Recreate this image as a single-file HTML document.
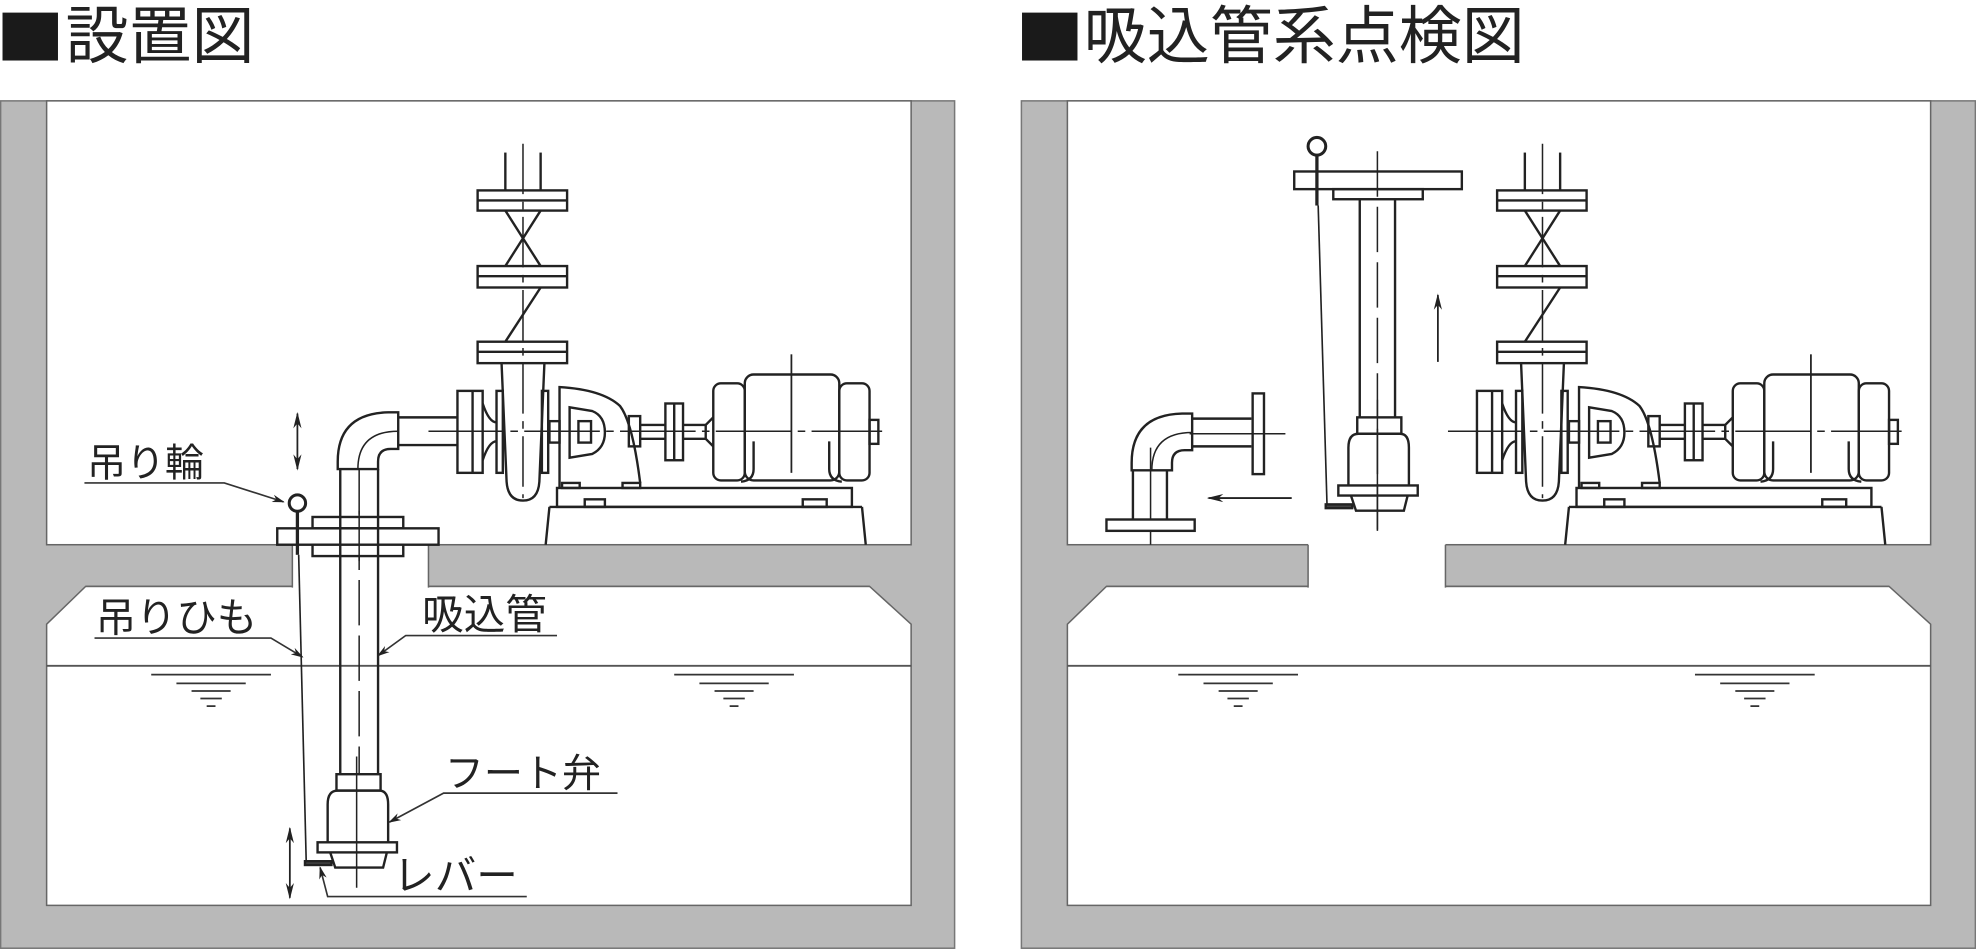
<!DOCTYPE html>
<html><head><meta charset="utf-8"><style>
html,body{margin:0;padding:0;background:#fff;}
svg{display:block;}
text{font-family:"Liberation Sans","Noto Sans CJK JP",sans-serif;fill:#222;}
</style></head><body>
<svg width="1976" height="952" viewBox="0 0 1568 755" preserveAspectRatio="none" xmlns="http://www.w3.org/2000/svg">
<defs>
<marker id="ah" viewBox="0 0 10 10" refX="9" refY="5" markerWidth="10" markerHeight="10" orient="auto-start-reverse" markerUnits="userSpaceOnUse"><path d="M0,2 L10,5 L0,8 L3,5 Z" fill="#222"/></marker>
<marker id="ah2" viewBox="0 0 10 10" refX="9" refY="5" markerWidth="13" markerHeight="13" orient="auto-start-reverse" markerUnits="userSpaceOnUse"><path d="M0,2.5 L10,5 L0,7.5 L3,5 Z" fill="#222"/></marker>

<g id="pump" fill="none" stroke="#222" stroke-width="1.9">
  <line x1="401" y1="121" x2="401" y2="151"/>
  <line x1="429" y1="121" x2="429" y2="151"/>
  <line x1="415" y1="114" x2="415" y2="395" stroke-width="1.2" stroke-dasharray="40,6,6,6"/>
  <rect x="379" y="151" width="71" height="16"/><line x1="379" y1="159" x2="450" y2="159"/>
  <rect x="379" y="211" width="71" height="17"/><line x1="379" y1="219" x2="450" y2="219"/>
  <rect x="379" y="271" width="71" height="17"/><line x1="379" y1="279" x2="450" y2="279"/>
  <line x1="401" y1="167" x2="429" y2="211"/><line x1="429" y1="167" x2="401" y2="211"/>
  <line x1="429" y1="228" x2="401" y2="271"/>
  <path d="M398,288 L402,382 Q403,397 415,397 Q427,397 428,382 L432,288"/>
  <rect x="363" y="310" width="20" height="65"/><line x1="375" y1="310" x2="375" y2="375"/>
  <path d="M383,320 Q388,335 394,335 M383,365 Q388,350 394,350"/>
  <rect x="394" y="310" width="5" height="65"/>
  <rect x="430" y="310" width="5" height="65"/>
  <path d="M444,387 L444,307 Q478,309 492,322 Q502,335 508,383"/>
  <path d="M452,323 L452,363 L470,360 Q480,355 480,343 Q480,330 470,326 Z"/>
  <rect x="459" y="334" width="10" height="17"/>
  <rect x="436" y="334" width="8" height="17"/>
  <rect x="446" y="383" width="14" height="4"/><rect x="494" y="383" width="14" height="4"/>
  <rect x="499" y="330" width="9" height="24"/>
  <line x1="508" y1="337" x2="528" y2="337"/><line x1="508" y1="348" x2="528" y2="348"/>
  <rect x="528" y="320" width="14" height="45"/><line x1="535" y1="320" x2="535" y2="365"/>
  <line x1="542" y1="337" x2="560" y2="337"/><line x1="542" y1="348" x2="560" y2="348"/>
  <path d="M560,337 L566,331 M560,348 L566,354 M560,337 L560,348"/>
  <rect x="566" y="304" width="25" height="77" rx="6"/>
  <rect x="591" y="297" width="75" height="84" rx="7"/>
  <rect x="666" y="304" width="24" height="77" rx="6"/>
  <rect x="690" y="333" width="7" height="19"/>
  <path d="M598,350 L598,372 Q598,381 588,382 M658,350 L658,372 Q658,381 668,382"/>
  <line x1="628" y1="281" x2="628" y2="375" stroke-width="1.4"/>
  <line x1="340" y1="342" x2="700" y2="342" stroke-width="1.2" stroke-dasharray="60,5,6,5"/>
  <rect x="442" y="387" width="234" height="15"/>
  <rect x="464" y="396" width="16" height="6"/><rect x="637" y="396" width="19" height="6"/>
  <path d="M436,402 L433,432 M684,402 L687,432 M436,402 L684,402"/>
</g>

<g id="fv" fill="none" stroke="#222" stroke-width="1.9">
  <rect x="267" y="614" width="35" height="13"/>
  <path d="M260,668 L260,638 Q260,627 268,627 L301,627 Q308,627 308,638 L308,668"/>
  <rect x="252" y="668" width="63" height="8"/>
  <path d="M262,676 L266,688 L304,688 L307,676"/>
  <line x1="283" y1="600" x2="283" y2="704" stroke-width="1.2"/>
  <rect x="242" y="683" width="21" height="3" fill="#444"/>
</g>

<g id="elbow" fill="none" stroke="#222" stroke-width="1.9">
  <path d="M268,372 L268,366 Q268,328 308,327 L316,327 L316,356 L310,356 Q300,356 300,366 L300,372 Z"/>
  <path d="M284,372 Q284,342 316,342" stroke-width="1.2"/>
  <line x1="316" y1="331" x2="363" y2="331"/>
  <line x1="316" y1="353" x2="363" y2="353"/>
</g>

<g id="water" fill="none" stroke="#333" stroke-width="1.4">
  <line x1="0" y1="0" x2="95" y2="0"/>
  <line x1="20" y1="7" x2="75" y2="7"/>
  <line x1="32" y1="13" x2="63" y2="13"/>
  <line x1="39" y1="19" x2="56" y2="19"/>
  <line x1="44" y1="25" x2="51" y2="25"/>
</g>
</defs>

<rect x="2" y="10" width="44" height="38" fill="#1a1a1a"/>
<text x="52" y="46" font-size="50">設置図</text>
<rect x="811" y="10" width="44" height="38" fill="#1a1a1a"/>
<text x="860" y="46" font-size="50">吸込管系点検図</text>

<rect x="0.5" y="80" width="757" height="672" fill="#b9b9b9" stroke="#777" stroke-width="1.2"/>
<rect x="37" y="80" width="686" height="352" fill="#fff" stroke="#666" stroke-width="1.2"/>
<path d="M68,465 L690,465 L723,495 L723,718 L37,718 L37,495 Z" fill="#fff" stroke="#666" stroke-width="1.2"/>
<rect x="232" y="431" width="108" height="36" fill="#fff"/>
<path d="M232,432 L232,466 M340,432 L340,466 M68,465 L232,465 M340,465 L690,465" stroke="#666" stroke-width="1.2" fill="none"/>
<line x1="37" y1="528" x2="723" y2="528" stroke="#555" stroke-width="1.5"/>
<use href="#water" transform="translate(120,535)"/>
<use href="#water" transform="translate(535,535)"/>

<use href="#pump"/>
<use href="#elbow"/>
<g fill="none" stroke="#222" stroke-width="1.9">
  <line x1="270" y1="372" x2="270" y2="614"/>
  <line x1="300" y1="372" x2="300" y2="614"/>
  <line x1="285" y1="372" x2="285" y2="614" stroke-width="1.2" stroke-dasharray="36,8"/>
  <rect x="248" y="410" width="72" height="9" fill="#fff"/>
  <rect x="220" y="419" width="128" height="13" fill="#fff"/>
  <rect x="248" y="432" width="72" height="9" fill="#fff"/>
  <line x1="285" y1="405" x2="285" y2="445" stroke-width="1.2"/>
  <line x1="270" y1="410" x2="270" y2="441"/><line x1="300" y1="410" x2="300" y2="441"/>
  <circle cx="236" cy="399" r="6.5" stroke-width="2.4"/>
  <path d="M236,405 L236,440" stroke-width="2.6"/>
  <line x1="237" y1="440" x2="243" y2="684" stroke-width="1.3"/>
  <line x1="236" y1="328" x2="236" y2="372" stroke-width="1.4" marker-start="url(#ah2)" marker-end="url(#ah2)"/>
  <line x1="230" y1="657" x2="230" y2="712" stroke-width="1.4" marker-start="url(#ah2)" marker-end="url(#ah2)"/>
</g>
<use href="#fv"/>

<text x="69" y="378" font-size="31">吊り輪</text>
<polyline points="67,383 178,383 225,398" fill="none" stroke="#333" stroke-width="1.3" marker-end="url(#ah)"/>
<text x="76" y="501" font-size="32">吊りひも</text>
<polyline points="75,506 215,506 240,521" fill="none" stroke="#333" stroke-width="1.3" marker-end="url(#ah)"/>
<text x="335" y="499" font-size="33">吸込管</text>
<polyline points="442,504 322,504 300,520" fill="none" stroke="#333" stroke-width="1.3" marker-end="url(#ah)"/>
<text x="353" y="624" font-size="31">フート弁</text>
<polyline points="490,629 352,629 309,652" fill="none" stroke="#333" stroke-width="1.3" marker-end="url(#ah)"/>
<text x="312" y="706" font-size="33">レバー</text>
<polyline points="418,711 260,711 254,688" fill="none" stroke="#333" stroke-width="1.3" marker-end="url(#ah)"/>

<rect x="810.5" y="80" width="757" height="672" fill="#b9b9b9" stroke="#777" stroke-width="1.2"/>
<rect x="847" y="80" width="685" height="352" fill="#fff" stroke="#666" stroke-width="1.2"/>
<path d="M878,465 L1499,465 L1532,495 L1532,718 L847,718 L847,495 Z" fill="#fff" stroke="#666" stroke-width="1.2"/>
<rect x="1038" y="431" width="109" height="36" fill="#fff"/>
<path d="M1038,432 L1038,466 M1147,432 L1147,466 M878,465 L1038,465 M1147,465 L1499,465" stroke="#666" stroke-width="1.2" fill="none"/>
<line x1="847" y1="528" x2="1532" y2="528" stroke="#555" stroke-width="1.5"/>
<use href="#water" transform="translate(935,535)"/>
<use href="#water" transform="translate(1345,535)"/>

<g transform="translate(809,0)"><use href="#pump"/></g>
<g transform="translate(630,1)"><use href="#elbow"/></g>
<g fill="none" stroke="#222" stroke-width="1.9">
  <line x1="899" y1="373" x2="899" y2="412"/>
  <line x1="926" y1="373" x2="926" y2="412"/>
  <line x1="913" y1="355" x2="913" y2="432" stroke-width="1.2"/>
  <rect x="878" y="412" width="70" height="9" fill="#fff"/>
  <rect x="994" y="312" width="9" height="64" fill="#fff"/>
  <line x1="944" y1="344" x2="1020" y2="344" stroke-width="1.2"/>
  <rect x="1027" y="136" width="133" height="14"/>
  <rect x="1058" y="150" width="71" height="8"/>
  <line x1="1079" y1="158" x2="1079" y2="331"/>
  <line x1="1107" y1="158" x2="1107" y2="331"/>
  <line x1="1093" y1="120" x2="1093" y2="421" stroke-width="1.2" stroke-dasharray="36,8"/>
  <circle cx="1045" cy="116" r="7" stroke-width="2.4"/>
  <path d="M1045,123 L1045,163" stroke-width="2.6"/>
  <line x1="1046" y1="163" x2="1053" y2="400" stroke-width="1.3"/>
  <line x1="1141" y1="287" x2="1141" y2="234" stroke-width="1.4" marker-end="url(#ah2)"/>
  <line x1="1025" y1="395" x2="959" y2="395" stroke-width="1.4" marker-end="url(#ah2)"/>
</g>
<g transform="translate(810,-283)"><use href="#fv"/></g>
</svg>
</body></html>
